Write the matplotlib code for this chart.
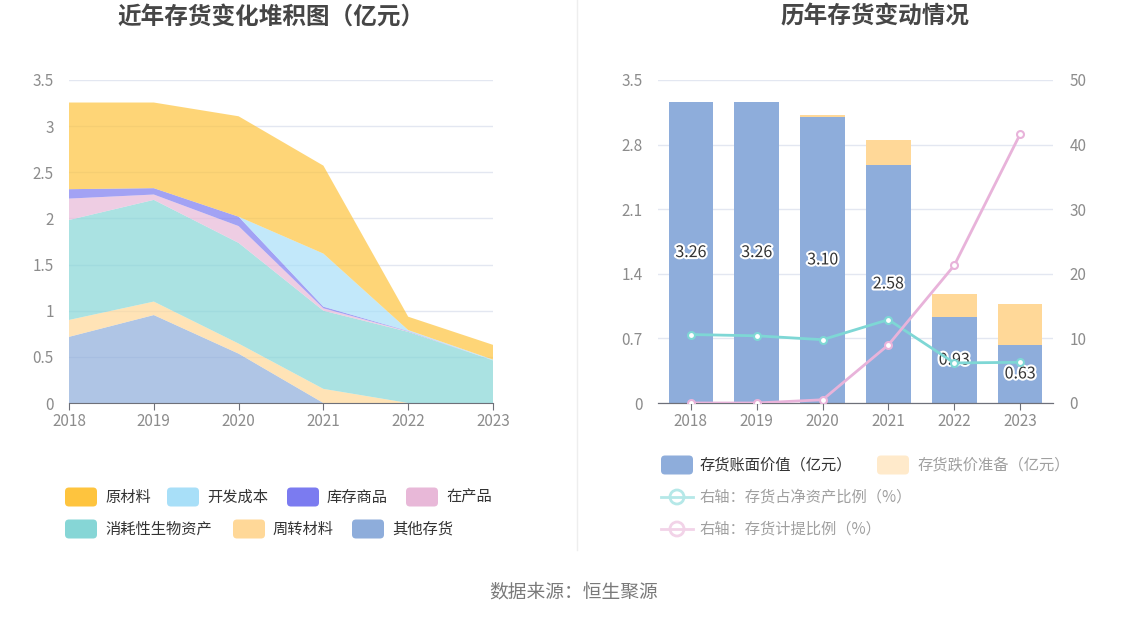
import matplotlib
matplotlib.use("Agg")
import matplotlib.pyplot as plt
import matplotlib.patheffects as pe
from matplotlib.patches import FancyBboxPatch, Circle
import numpy as np

plt.rcParams['font.family'] = ['Noto Sans CJK SC', 'DejaVu Sans']

years = ['2018', '2019', '2020', '2021', '2022', '2023']

# 左图：各类存货（亿元），自下而上
qita = [0.717, 0.953, 0.535, 0.0, 0.0, 0.0]
zhouzhuan = [0.183, 0.146, 0.109, 0.153, 0.0, 0.0]
xiaohao = [1.083, 1.102, 1.091, 0.847, 0.771, 0.462]
zaichan = [0.232, 0.058, 0.182, 0.026, 0.005, 0.0]
kucun = [0.102, 0.069, 0.102, 0.018, 0.004, 0.0]
kaifa = [0.0, 0.0, 0.0, 0.575, 0.010, 0.008]
yuancailiao = [0.939, 0.928, 1.088, 0.953, 0.145, 0.160]

# 右图
book_value = [3.26, 3.26, 3.10, 2.58, 0.93, 0.63]
provision = [0.0, 0.0, 0.016, 0.265, 0.25, 0.447]
ratio_net_assets = [10.6, 10.4, 9.8, 12.9, 6.2, 6.3]
ratio_provision = [0.0, 0.0, 0.5, 9.0, 21.3, 41.6]

W, H = 1148, 619
fig = plt.figure(figsize=(W / 100, H / 100), dpi=100)


def rect(x0, y0, x1, y1):
    # 像素坐标(左上原点) -> figure 比例
    return [x0 / W, (H - y1) / H, (x1 - x0) / W, (y1 - y0) / H]


tick_color = '#8c8c8c'
grid_color = '#E3E7F1'
axis_color = '#6E7079'

# ---------- 左图 ----------
ax1 = fig.add_axes(rect(69, 80, 493, 403))
x = np.arange(len(years))
stack_vals = [qita, zhouzhuan, xiaohao, zaichan, kucun, kaifa, yuancailiao]
stack_colors = ['#8EADDB', '#FFD898', '#86D6D6', '#E8B8D8', '#7B7BF0', '#A8DFF8', '#FEC43E']
ax1.stackplot(x, *stack_vals, colors=stack_colors, alpha=0.7, linewidth=0)
ax1.set_xlim(0, 5)
ax1.set_ylim(0, 3.5)
ax1.set_yticks(np.arange(0, 3.51, 0.5))
ax1.set_yticklabels(['0', '0.5', '1', '1.5', '2', '2.5', '3', '3.5'])
ax1.set_xticks(x)
ax1.set_xticklabels(years)

# ---------- 右图 ----------
ax2 = fig.add_axes(rect(658, 80, 1053, 403))
ax2.bar(x, book_value, width=0.68, color='#8EADDB', zorder=2)
ax2.bar(x, provision, width=0.68, bottom=book_value, color='#FFD898', zorder=2)
ax2.set_xlim(-0.5, 5.5)
ax2.set_ylim(0, 3.5)
ax2.set_yticks([0, 0.7, 1.4, 2.1, 2.8, 3.5])
ax2.set_yticklabels(['0', '0.7', '1.4', '2.1', '2.8', '3.5'])
ax2.set_xticks(x)
ax2.set_xticklabels(years)

ax3 = ax2.twinx()
ax3.set_ylim(0, 50)
ax3.set_yticks(np.arange(0, 51, 10))
ax3.plot(x, ratio_net_assets, color='#7ED7D5', lw=2, marker='o', ms=5,
         mfc='white', mew=1.5, zorder=3)
ax3.plot(x, ratio_provision, color='#E8B3DA', lw=2, marker='o', ms=5,
         mfc='white', mew=1.5, zorder=3)
for i, v in enumerate(book_value):
    # 标签放在柱中部，线条压在标签上
    ax3.text(i, v / 2 / 3.5 * 50, '%.2f' % v, ha='center', va='center',
             fontsize=11.5, color='#333333', zorder=2.5,
             path_effects=[pe.withStroke(linewidth=3, foreground='white')])

for ax in (ax1, ax2, ax3):
    for s in ('left', 'right', 'top'):
        ax.spines[s].set_visible(False)
    ax.spines['bottom'].set_color(axis_color)
    ax.tick_params(axis='y', length=0, labelsize=11, labelcolor=tick_color, pad=11)
    ax.tick_params(axis='x', length=5, color=axis_color, labelsize=11,
                   labelcolor=tick_color, pad=2)
for ax in (ax1, ax2):
    ax.yaxis.grid(True, color=grid_color, lw=1)
    ax.set_axisbelow(True)
ax3.tick_params(axis='y', pad=12)

# ---------- 覆盖层：标题、图例、分隔线 ----------
ov = fig.add_axes([0, 0, 1, 1], facecolor='none')
ov.set_xlim(0, W)
ov.set_ylim(H, 0)
ov.axis('off')

ov.plot([577, 577], [0, 550], color='#EEEEEE', lw=1)
ov.text(271, 17, '近年存货变化堆积图（亿元）', ha='center', va='center',
        fontsize=17, fontweight='bold', color='#464646')
ov.text(875, 17, '历年存货变动情况', ha='center', va='center',
        fontsize=17, fontweight='bold', color='#464646')
ov.text(574, 592, '数据来源：恒生聚源', ha='center', va='center',
        fontsize=13.5, color='#7a7a7a')


def patch(px, py, color):
    ov.add_patch(FancyBboxPatch((px, py - 9.5), 32, 19,
                                boxstyle='round,pad=0,rounding_size=4',
                                fc=color, ec='none'))


left_legend = [('原材料', '#FEC43E', 65, 497), ('开发成本', '#A8DFF8', 167, 497),
               ('库存商品', '#7B7BF0', 287, 497), ('在产品', '#E8B8D8', 406, 497),
               ('消耗性生物资产', '#86D6D6', 65, 529), ('周转材料', '#FFD898', 233, 529),
               ('其他存货', '#8EADDB', 352, 529)]
for name, c, px, py in left_legend:
    patch(px, py, c)
    ov.text(px + 40, py, name, ha='left', va='center', fontsize=11, color='#333333')

patch(661, 465, '#8EADDB')
ov.text(700, 465, '存货账面价值（亿元）', ha='left', va='center', fontsize=11, color='#333333')
patch(877, 465, '#FFEACB')
ov.text(917, 465, '存货跌价准备（亿元）', ha='left', va='center', fontsize=11, color='#a0a0a0')
for py, c, name in [(497, '#B5E8E8', '右轴：存货占净资产比例（%）'),
                    (529, '#F2D3E8', '右轴：存货计提比例（%）')]:
    ov.plot([661, 693], [py, py], color=c, lw=2)
    ov.add_patch(Circle((677, py), 7, fc='white', ec=c, lw=2))
    ov.text(700, py, name, ha='left', va='center', fontsize=11, color='#a0a0a0')

fig.savefig('out.png', dpi=100)
